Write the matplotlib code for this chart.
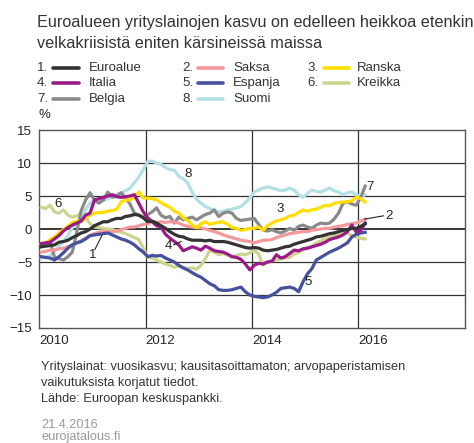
import numpy as np
import matplotlib
matplotlib.use("Agg")
import matplotlib.pyplot as plt
from matplotlib.lines import Line2D

plt.rcParams["font.family"] = ["Liberation Sans", "DejaVu Sans"]

# Monthly annual growth rates, Jan 2010 - Feb 2016 (%)
euroalue = [-2.7, -2.6, -2.5, -2.4, -2.0, -1.9, -1.7, -1.3, -1.0, -0.6, -0.4, 0.0,
            0.5, 0.8, 1.1, 1.1, 1.4, 1.6, 1.6, 1.9, 2.0, 2.2, 2.1, 1.7,
            1.1, 1.2, 0.9, 0.5, 0.1, -0.4, -0.8, -1.1, -1.2, -1.5, -1.7, -1.7,
            -1.7, -1.8, -1.7, -1.9, -1.9, -1.9, -2.0, -2.2, -2.4, -2.6, -2.8, -2.9,
            -2.8, -2.9, -3.2, -3.3, -3.2, -3.1, -2.9, -2.7, -2.6, -2.3, -2.1, -1.9,
            -1.7, -1.5, -1.2, -1.1, -0.9, -0.7, -0.6, -0.4, -0.2, -0.1, 0.1, 0.1,
            0.4, 0.8]
saksa = [-3.5, -3.4, -3.2, -3.2, -3.0, -2.9, -2.7, -2.4, -2.1, -1.8, -1.4, -1.0,
         -0.7, -0.5, -0.4, -0.4, -0.4, -0.3, -0.1, 0.1, 0.3, 0.3, 0.5, 0.7,
         0.8, 1.1, 1.0, 1.1, 1.0, 1.1, 1.1, 0.9, 0.6, 0.4, 0.3, 0.2,
         0.2, 0.0, -0.2, -0.4, -0.6, -0.9, -1.1, -1.3, -1.5, -1.7, -1.8, -1.9,
         -2.1, -1.9, -1.7, -1.7, -1.6, -1.3, -1.1, -0.9, -0.7, -0.6, -0.5, -0.4,
         -0.4, -0.2, -0.1, 0.0, 0.1, 0.1, 0.3, 0.4, 0.5, 0.7, 0.8, 0.9,
         1.2, 1.5]
ranska = [-2.3, -2.1, -1.6, -1.2, -0.6, -0.1, 0.4, 1.0, 1.2, 1.1, 1.7, 2.1,
          2.4, 2.5, 2.5, 2.7, 2.8, 3.0, 4.1, 4.4, 4.4, 4.9, 5.6, 4.7,
          4.7, 4.6, 4.4, 4.0, 3.6, 3.3, 2.7, 2.4, 1.7, 1.3, 0.6, 0.2,
          0.8, 1.1, 0.7, 0.9, 1.0, 1.1, 0.7, 0.2, 0.1, -0.2, -0.1, 0.1,
          0.1, 0.3, -0.2, 0.5, 0.9, 1.2, 1.4, 1.6, 2.0, 2.1, 2.5, 2.9,
          2.7, 2.9, 3.0, 3.3, 3.6, 3.5, 3.9, 4.0, 4.1, 4.1, 4.3, 4.8,
          4.6, 4.1]
italia = [-2.2, -2.1, -2.0, -1.5, -1.0, -0.3, 0.2, 0.6, 0.9, 1.2, 2.1, 2.4,
          4.4, 4.6, 4.8, 5.0, 5.2, 4.9, 4.8, 4.9, 5.0, 5.2, 3.9, 2.6,
          1.7, 1.1, 0.5, 0.3, -0.8, -1.4, -1.9, -2.4, -3.3, -3.0, -2.7, -2.9,
          -3.2, -2.6, -2.9, -3.3, -3.4, -3.5, -3.8, -4.2, -4.3, -4.6, -5.3, -6.2,
          -5.5, -5.2, -5.3, -5.0, -4.9, -3.9, -4.4, -4.2, -3.7, -3.2, -3.3, -3.0,
          -2.9, -2.7, -2.5, -2.3, -2.0, -1.6, -1.4, -1.2, -0.9, -0.4, 0.6, -0.5,
          -0.2, 0.9]
espanja = [-4.2, -4.3, -4.4, -4.7, -4.2, -3.6, -2.9, -2.4, -2.1, -1.9, -1.5, -1.0,
           -0.9, -0.8, -0.7, -0.6, -0.9, -1.2, -1.5, -1.7, -2.0, -2.4, -3.0, -3.5,
           -4.2, -4.0, -4.1, -4.0, -4.4, -4.7, -5.0, -5.5, -5.9, -6.2, -6.6, -7.0,
           -7.3, -7.8, -8.3, -8.6, -9.2, -9.3, -9.3, -9.2, -9.0, -8.8, -9.5, -10.0,
           -10.2, -10.3, -10.4, -10.3, -10.0, -9.6, -9.0, -8.9, -8.8, -9.0, -9.5, -8.0,
           -6.8, -6.0, -4.7, -4.3, -3.9, -3.5, -3.2, -2.9, -2.5, -2.1, -1.2, -0.8,
           -0.6, -0.5]
kreikka = [3.3, 3.1, 3.6, 2.6, 2.4, 2.9, 2.1, 1.8, 2.0, 2.4, 1.8, 0.8,
           0.3, 0.2, 0.1, 0.0, -0.1, -0.3, -0.5, -0.7, -1.0, -1.3, -1.6, -2.9,
           -4.3, -4.4, -4.7, -5.0, -5.3, -5.5, -5.8, -5.6, -5.8, -6.0, -5.9, -6.1,
           -5.5, -4.5, -3.2, -3.5, -3.9, -3.7, -4.0, -4.2, -4.0, -3.8, -3.9, -3.6,
           -3.2, -3.8, -5.5, -5.0, -4.8, -4.7, -4.5, -4.4, -4.3, -3.8, -3.5, -3.2,
           -2.9, -2.6, -2.1, -1.8, -1.4, -1.2, -1.0, -0.9, -0.7, -0.6, -1.0, -1.2,
           -1.4, -1.5]
belgia = [-2.4, -2.2, -1.9, -4.3, -4.5, -4.7, -4.2, -3.5, -0.5, 2.8, 4.4, 5.5,
          4.4, 3.9, 4.4, 5.6, 4.8, 5.0, 5.5, 4.7, 3.8, 2.4, 2.1, 1.8,
          2.2, 2.6, 3.2, 2.1, 1.7, 1.9, 0.9, 1.8, 1.4, 1.6, 1.8, 1.4,
          1.8, 2.2, 2.4, 2.9, 1.9, 2.4, 2.6, 2.4, 1.6, 1.3, 1.4, 1.5,
          1.6, 0.7, -0.2, -0.3, -0.1, -0.4, -0.6, -0.3, 0.1, -0.2, 0.4, 0.6,
          0.3, 0.1, 0.6, 0.9, 0.8, 0.9, 1.5, 2.4, 3.9, 4.1, 3.8, 3.6,
          4.8, 6.5]
suomi = [-4.4, -4.3, -4.0, -3.3, -2.6, -1.8, -1.0, 0.2, 0.6, 1.2, 3.0, 3.9,
         4.4, 4.4, 4.3, 4.6, 5.0, 5.2, 5.5, 5.8, 6.2, 7.0, 7.9, 9.0,
         10.2, 10.3, 10.0, 9.8, 9.3, 9.0, 8.9, 8.0, 7.6, 7.0, 5.6, 4.5,
         3.9, 3.4, 3.1, 2.8, 2.6, 2.7, 2.9, 3.0, 3.2, 3.4, 4.0, 4.7,
         5.6, 5.9, 6.2, 6.4, 6.2, 6.0, 5.8, 5.9, 6.2, 5.9, 5.2, 4.8,
         5.4, 5.9, 5.7, 5.6, 5.9, 6.2, 5.8, 5.6, 5.2, 5.5, 5.6, 5.2,
         4.9, 5.2]

names = ["Euroalue", "Saksa", "Ranska", "Italia", "Espanja", "Kreikka", "Belgia", "Suomi"]
series = [euroalue, saksa, ranska, italia, espanja, kreikka, belgia, suomi]
colors = ["#333333", "#f4999b", "#ffde00", "#9b1a89", "#45509e", "#cdd48e", "#8a8a8a", "#b3e0e3"]
draw_order = [5, 7, 6, 1, 2, 4, 3, 0]

# line labels: (text, x, y) and leader lines
labels = [("8", 2012.8, 8.3), ("6", 2010.36, 3.8), ("1", 2011.01, -3.9),
          ("4", 2012.43, -2.6), ("3", 2014.53, 3.0), ("5", 2015.05, -8.0),
          ("7", 2016.22, 6.3), ("2", 2016.58, 1.9)]
leaders = [((2011.05, 2011.18), (-3.1, -1.0)),
           ((2012.53, 2012.67), (-2.4, -1.9)),
           ((2016.12, 2016.47), (1.5, 2.0))]

n = len(euroalue)
t = 2010 + (np.arange(n) + 0.5) / 12

fig = plt.figure(figsize=(4.74, 4.43), dpi=100)
ax = fig.add_axes([0.0823, 0.2596, 0.8987, 0.4469])

for i in draw_order:
    ax.plot(t, series[i], color=colors[i], lw=2.3, solid_joinstyle="round", zorder=3)

for txt, x, y in labels:
    ax.text(x, y, txt, fontsize=9.5, color="#222222", ha="center", va="center", zorder=5)
for xs, ys in leaders:
    ax.plot(xs, ys, color="#222222", lw=0.8, zorder=5)

ax.set_xlim(2010, 2018)
ax.set_ylim(-15, 15)
ax.set_yticks([-15, -10, -5, 0, 5, 10, 15])
ax.set_yticklabels(["\u221215", "\u221210", "\u22125", "0", "5", "10", "15"])
ax.set_xticks([2010, 2012, 2014, 2016])
ax.set_xticklabels(["2010", "2012", "2014", "2016"], ha="left")
ax.tick_params(length=0, labelsize=9.5, colors="#222222", pad=5)
for yv in [-10, -5, 5, 10]:
    ax.axhline(yv, color="#333333", lw=0.9, zorder=1)
ax.axhline(0, color="#000000", lw=1.1, zorder=1)
for xv in [2012, 2014, 2016]:
    ax.axvline(xv, color="#333333", lw=0.9, zorder=1)
for s in ax.spines.values():
    s.set_color("#555555")
    s.set_linewidth(1.0)
ax.text(-0.002, 1.045, "%", transform=ax.transAxes, fontsize=9.5, color="#222222", va="bottom")

# title
fig.text(37 / 474, 1 - 23 / 443, "Euroalueen yrityslainojen kasvu on edelleen heikkoa etenkin",
         fontsize=11.7, color="#333333", va="center")
fig.text(37 / 474, 1 - 43 / 443, "velkakriisistä eniten kärsineissä maissa",
         fontsize=11.7, color="#333333", va="center")

# legend
col_x = [(37, 53, 79, 89), (182, 198, 223, 233), (307, 324, 349, 357)]
row_y = [68, 83, 99]
for k, name in enumerate(names):
    r, c = k // 3, k % 3
    nx, l0, l1, tx = col_x[c]
    yy = 1 - row_y[r] / 443
    fig.text(nx / 474, yy, f"{k + 1}.", fontsize=9.5, color="#333333", va="center")
    fig.add_artist(Line2D([l0 / 474, l1 / 474], [yy, yy], color=colors[k], lw=2.6,
                          solid_capstyle="round", transform=fig.transFigure))
    fig.text(tx / 474, yy, name, fontsize=9.5, color="#333333", va="center")

# notes
notes = ["Yrityslainat: vuosikasvu; kausitasoittamaton; arvopaperistamisen",
         "vaikutuksista korjatut tiedot.",
         "Lähde: Euroopan keskuspankki."]
for j, line in enumerate(notes):
    fig.text(41 / 474, 1 - (367 + 16 * j) / 443, line, fontsize=9.2, color="#333333", va="center")
fig.text(41 / 474, 1 - 425 / 443, "21.4.2016", fontsize=9.2, color="#999999", va="center")
fig.text(41 / 474, 1 - 437 / 443, "eurojatalous.fi", fontsize=9.2, color="#999999", va="center")

fig.savefig("out.png", dpi=100)
